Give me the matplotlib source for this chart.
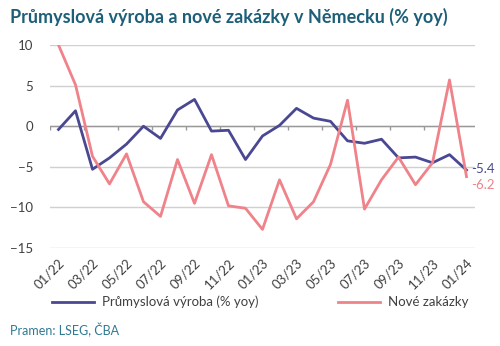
import numpy as np
import matplotlib.pyplot as plt

plt.rcParams['font.family'] = ['Lato', 'DejaVu Sans']

months = ['01/22', '02/22', '03/22', '04/22', '05/22', '06/22', '07/22', '08/22',
          '09/22', '10/22', '11/22', '12/22', '01/23', '02/23', '03/23', '04/23',
          '05/23', '06/23', '07/23', '08/23', '09/23', '10/23', '11/23', '12/23',
          '01/24']
vyroba = [-0.4, 1.9, -5.3, -3.9, -2.2, 0.0, -1.5, 2.0, 3.3, -0.6, -0.5, -4.1,
          -1.2, 0.1, 2.2, 1.0, 0.6, -1.8, -2.1, -1.6, -3.9, -3.8, -4.5, -3.5, -5.4]
zakazky = [10.0, 5.1, -3.7, -7.1, -3.4, -9.3, -11.1, -4.1, -9.5, -3.5, -9.8, -10.1,
           -12.7, -6.6, -11.4, -9.3, -4.7, 3.2, -10.2, -6.6, -3.8, -7.2, -4.5, 5.7, -6.2]

c_vyroba = '#4a4892'
c_zakazky = '#f0828a'
c_teal = '#1d5f78'
c_text = '#404040'

fig = plt.figure(figsize=(5, 3.46), dpi=100)
ax = fig.add_axes([0.1, 0.283, 0.85, 0.587])

x = np.arange(len(months))
ax.set_xlim(-0.5, len(months) - 0.5)
ax.set_ylim(-15, 10)
ax.set_yticks([-15, -10, -5, 0, 5, 10])
ax.grid(axis='y', color='#d0d0d0', lw=1)
ax.axhline(0, color='#999999', lw=1)
# small ticks on the zero line between every second month
ax.vlines(np.arange(-0.5, len(months), 2), -0.45, 0, color='#999999', lw=1)

ax.plot(x, vyroba, color=c_vyroba, lw=2, label='Průmyslová výroba (% yoy)')
ax.plot(x, zakazky, color=c_zakazky, lw=2, label='Nové zakázky')

ax.annotate(f'{vyroba[-1]:.1f}', (x[-1], vyroba[-1]), xytext=(3, 1),
            textcoords='offset points', color=c_vyroba, fontsize=9.5, va='center')
ax.annotate(f'{zakazky[-1]:.1f}', (x[-1], zakazky[-1]), xytext=(3, -6),
            textcoords='offset points', color=c_zakazky, fontsize=9.5, va='center')

ax.set_xticks(x[::2])
ax.set_xticklabels(months[::2], rotation=45, ha='right', rotation_mode='anchor')
ax.tick_params(axis='x', length=0, pad=6, labelsize=9.5, colors=c_text)
ax.tick_params(axis='y', length=0, pad=12, labelsize=9.5, colors=c_text)
for s in ax.spines.values():
    s.set_visible(False)

fig.legend(loc='center', bbox_to_anchor=(0.52, 0.127), ncol=2, frameon=False,
           fontsize=9.5, handlelength=3.2, handletextpad=0.6, columnspacing=6,
           labelcolor=c_text)

fig.text(0.02, 0.95, 'Průmyslová výroba a nové zakázky v Německu (% yoy)',
         fontsize=13, fontweight='bold', color=c_teal, va='center')
fig.text(0.02, 0.045, 'Pramen: LSEG, ČBA', fontsize=9, color='#2f7a93', va='center')

fig.savefig('out.png', dpi=100)
